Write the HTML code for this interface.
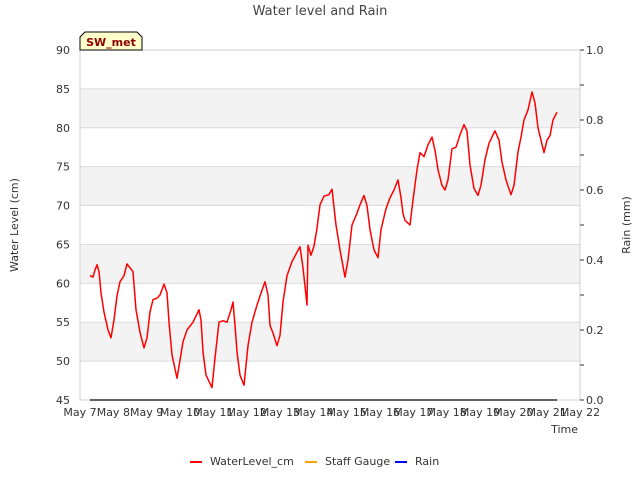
<!DOCTYPE html>
<html><head><meta charset="utf-8"><style>
body{margin:0;background:#fff;font-family:"Liberation Sans","DejaVu Sans",sans-serif}
svg text{font-family:"DejaVu Sans","Liberation Sans",sans-serif}
</style></head><body>
<svg id="chart" width="640" height="480" viewBox="0 0 640 480" xmlns="http://www.w3.org/2000/svg"></svg>
<script>
const days=[.30,.39,.45,.51,.57,.63,.72,.84,.93,1.02,1.11,1.2,1.32,1.41,1.5,1.59,1.68,1.8,1.92,2.01,2.1,2.19,2.31,2.4,2.52,2.61,2.67,2.76,2.91,3.0,3.09,3.21,3.39,3.57,3.63,3.69,3.78,3.96,4.05,4.17,4.29,4.41,4.53,4.59,4.65,4.71,4.8,4.92,5.04,5.16,5.31,5.46,5.55,5.64,5.7,5.79,5.91,6.0,6.09,6.21,6.36,6.51,6.6,6.69,6.81,6.84,6.93,7.02,7.11,7.2,7.32,7.47,7.56,7.68,7.8,7.95,8.04,8.16,8.31,8.4,8.52,8.61,8.7,8.82,8.94,9.03,9.18,9.3,9.42,9.54,9.63,9.69,9.75,9.9,9.99,10.11,10.2,10.32,10.44,10.56,10.65,10.74,10.86,10.95,11.04,11.16,11.28,11.4,11.52,11.61,11.7,11.82,11.94,12.03,12.15,12.27,12.39,12.45,12.57,12.66,12.78,12.93,13.02,13.14,13.23,13.32,13.44,13.56,13.65,13.74,13.83,13.92,14.01,14.1,14.19,14.31];
const waterLevel=[61.0,60.8,61.7,62.4,61.5,58.8,56.3,54,53,55.3,58.4,60.2,61,62.5,62,61.5,56.6,53.7,51.7,53,56.3,57.9,58.1,58.5,59.9,58.8,55,50.8,47.8,50.1,52.5,54,55,56.6,55.3,51.2,48.2,46.6,50.4,55,55.2,55,56.6,57.6,54.6,51.2,48.2,46.9,52,55,57.2,59.1,60.2,58.5,54.6,53.6,52,53.3,57.6,61,62.8,64,64.7,62,57.2,64.9,63.6,64.8,67.1,70.1,71.2,71.4,72.1,67.5,64.3,60.8,63,67.5,69,70.1,71.3,70,66.9,64.3,63.3,66.9,69.6,71,72,73.3,71,69,68.1,67.5,70.7,74.6,76.8,76.3,77.8,78.8,77.1,74.6,72.6,72,73.3,77.3,77.5,79.1,80.4,79.6,75.2,72.2,71.3,72.6,75.9,78,79.1,79.6,78.4,75.6,73.3,71.4,72.6,76.9,78.8,81,82.3,84.6,83.2,80,78.4,76.8,78.4,79,81,82];
const rainDays=[0.3,14.31];
const rain=[0,0];
const xTickLabels=["May 7","May 8","May 9","May 10","May 11","May 12","May 13","May 14","May 15","May 16","May 17","May 18","May 19","May 20","May 21","May 22"];
const yTicks=[45,50,55,60,65,70,75,80,85,90];
const y2Ticks=[0,0.2,0.4,0.6,0.8,1.0];

const NS="http://www.w3.org/2000/svg";
const svg=document.getElementById('chart');
const L=80,R=580,T=50,B=400;
const xs=d=>L+(d/15)*(R-L);
const ys=v=>B-(v-45)/45*(B-T);
const y2s=v=>B-v*(B-T);
function mk(tag,attrs,parent){const e=document.createElementNS(NS,tag);for(const k in attrs)e.setAttribute(k,attrs[k]);(parent||svg).appendChild(e);return e;}

// bands
for(let v=50;v<90;v+=10){
  const b=mk('rect',{x:L,y:ys(v+5),width:R-L,height:ys(v)-ys(v+5),fill:'#f3f3f3'});
  
  
}
yTicks.forEach(v=>{
  const g=mk('line',{x1:L,x2:R,y1:ys(v),y2:ys(v),stroke:'#dcdcdc','stroke-width':1});
  
  
  const t=mk('text',{x:L-10,y:ys(v)+4,'text-anchor':'end','font-size':11,fill:'#333'});
  t.textContent=v;
  
  
});
const frame=mk('rect',{x:L,y:T,width:R-L,height:B-T,fill:'none',stroke:'#d0d0d0'});


xTickLabels.forEach((s,i)=>{
  const t=mk('text',{x:xs(i),y:B+16,'text-anchor':'middle','font-size':11,fill:'#333'});
  t.textContent=s;
  
  
});
for(let i=0;i<=10;i++){
  const v=i/10;
  mk('line',{x1:R,x2:R+(i%2?4:4),y1:y2s(v),y2:y2s(v),stroke:'#333'});
}
y2Ticks.forEach(v=>{
  const t=mk('text',{x:R+6,y:y2s(v)+4,'font-size':11,fill:'#333'});
  t.textContent=v.toFixed(1);
  
  
});
// rain line
const rl=mk('polyline',{points:rainDays.map((d,i)=>xs(d)+','+y2s(rain[i])).join(' '),fill:'none',stroke:'#000','stroke-width':1.2});


// water line
const wl=mk('polyline',{points:days.map((d,i)=>xs(d).toFixed(1)+','+ys(waterLevel[i]).toFixed(1)).join(' '),fill:'none',stroke:'#ff0000','stroke-width':1.5,'stroke-linejoin':'round'});



function txt(s,a,name){const t=mk('text',a);t.textContent=s;return t;}
txt('Water level and Rain',{x:320,y:15,'text-anchor':'middle','font-size':13,fill:'#444'},'chart-title');
txt('Time',{x:578,y:433,'text-anchor':'end','font-size':11,fill:'#333'},'x-axis-title');
txt('Water Level (cm)',{x:18,y:225,'text-anchor':'middle','font-size':11,fill:'#333',transform:'rotate(-90 18 225)'},'y-axis-title');
txt('Rain (mm)',{x:630,y:225,'text-anchor':'middle','font-size':11,fill:'#333',transform:'rotate(-90 630 225)'},'y2-axis-title');
// SW_met box
const bx=mk('polygon',{points:'80,50 80,37 85,32 137,32 142,37 142,50',fill:'#ffffcc',stroke:'#000','stroke-width':1});


txt('SW_met',{x:111,y:46,'text-anchor':'middle','font-size':11,'font-weight':'bold',fill:'#8b0000'},'station-label');
// legend
const leg=[['WaterLevel_cm','#ff0000',190],['Staff Gauge','#ffa500',305],['Rain','#0000ff',395]];
leg.forEach(([s,c,x])=>{
  const g=mk('g',{});
  
  
  mk('line',{x1:x,x2:x+12,y1:462,y2:462,stroke:c,'stroke-width':2},g);
  const t=mk('text',{x:x+20,y:465,'font-size':11,fill:'#333'},g);t.textContent=s;
});
</script>
</body></html>
